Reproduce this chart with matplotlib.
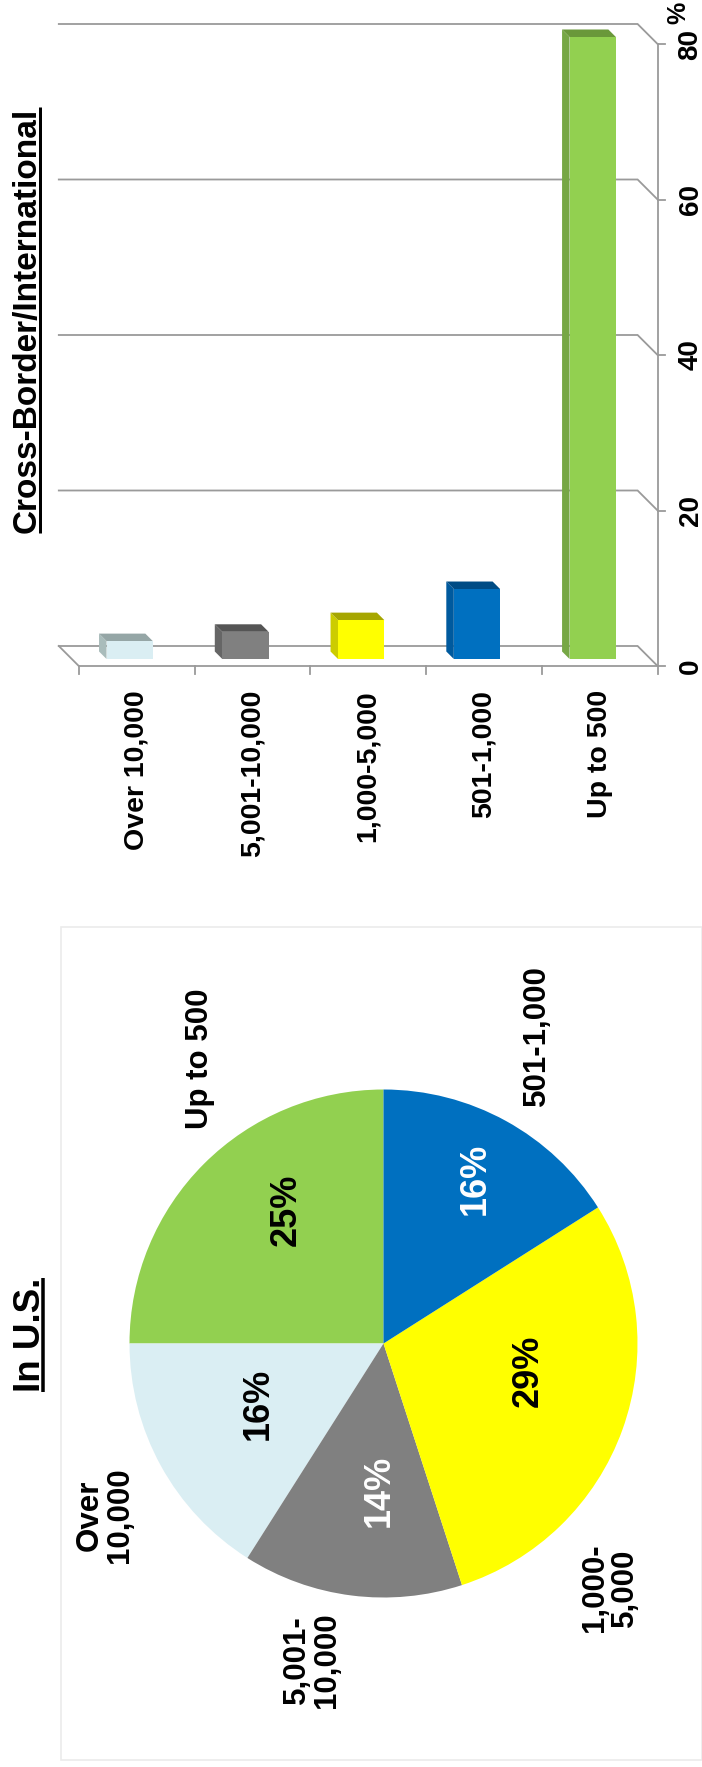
import matplotlib
matplotlib.use("Agg")
import matplotlib.pyplot as plt
from matplotlib.patches import Polygon, Rectangle
from matplotlib.lines import Line2D
from matplotlib.transforms import IdentityTransform

# ---------------- data ----------------
bar_categories = ["Over 10,000", "5,001-10,000", "1,000-5,000", "501-1,000", "Up to 500"]
bar_values = [2.3, 3.5, 5.0, 9.0, 80.0]
value_ticks = [0, 20, 40, 60, 80]

pie_labels = ["Up to 500", "Over\n10,000", "5,001-\n10,000", "1,000-\n5,000", "501-1,000"]
pie_values = [25, 16, 14, 29, 16]

# ---------------- styles ----------------
bar_front = ["#DAEEF3", "#808080", "#FFFF00", "#0070C0", "#92D050"]
bar_top = ["#95A6A6", "#555555", "#A6A600", "#004C85", "#6A983A"]
bar_side = ["#A9BCBB", "#666666", "#CCCC00", "#005A9E", "#76A745"]
pie_colors = ["#92D050", "#DAEEF3", "#808080", "#FFFF00", "#0070C0"]
pct_colors = ["black", "black", "white", "black", "white"]
grid_color = "#9A9A9A"

# label anchor points inside the pie (in radius units)
pct_pos = [(-0.381, 0.526), (-0.494, -0.238), (-0.018, -0.581), (0.569, -0.108), (0.360, 0.648)]
lab_pos = [(-0.722, 1.120), (-1.096, -0.675), (-0.280, -1.246), (0.892, -0.963), (0.603, 1.211)]

W, H = 702, 1767
plt.rcParams["font.family"] = ["Liberation Sans", "DejaVu Sans"]
plt.rcParams["font.weight"] = "bold"

fig = plt.figure(figsize=(W / 100, H / 100), dpi=100)
fig.patch.set_facecolor("white")


def px_axes(x0, y0, x1, y1):
    """Axes from a pixel box measured from the top-left corner."""
    return fig.add_axes([x0 / W, 1 - y1 / H, (x1 - x0) / W, (y1 - y0) / H])


# full-page canvas for titles and the frame
canvas = px_axes(0, 0, W, H)
canvas.set_xlim(0, W)
canvas.set_ylim(H, 0)
canvas.axis("off")

# ---------------- 3-D style column chart ----------------
bx0, by0, bx1, by1 = 71.8, 37, 650.6, 659
ax = px_axes(bx0, by0, bx1, by1)
n = len(bar_categories)
ax.set_xlim(-0.5, n - 0.5)
ax.set_ylim(0, value_ticks[-1])
ax.axis("off")
ux = (bx1 - bx0) / n
uy = (by1 - by0) / value_ticks[-1]


def shift(x, y, d):
    """Move a point d pixels back in depth (negative = toward viewer)."""
    return x - d / ux, y + d / uy


BACK, FRONT, DEPTH = 13, -7, 7.5
lw = 1.3

# back wall gridlines with their diagonal returns to the value axis
for v in value_ticks:
    p0 = shift(-0.5, v, BACK)
    p1 = shift(n - 0.5, v, BACK)
    p2 = shift(n - 0.5, v, FRONT)
    ax.plot([p0[0], p1[0], p2[0]], [p0[1], p1[1], p2[1]], color=grid_color, lw=lw,
            clip_on=False, zorder=1, solid_joinstyle="miter")
    # outward tick on the value axis
    ax.plot([p2[0], p2[0] + 7 / ux], [p2[1], p2[1]], color=grid_color, lw=lw,
            clip_on=False, zorder=1)
    ax.text(p2[0] + 33 / ux, p2[1], f"{v}", rotation=90, ha="center", va="center",
            fontsize=20, fontweight="bold")

# floor: left edge and front edge
fl = shift(-0.5, 0, BACK)
ff = shift(-0.5, 0, FRONT)
fr = shift(n - 0.5, 0, FRONT)
ax.plot([fl[0], ff[0], fr[0]], [fl[1], ff[1], fr[1]], color=grid_color, lw=lw,
        clip_on=False, zorder=1, solid_joinstyle="miter")
# value axis
top = shift(n - 0.5, value_ticks[-1], FRONT)
ax.plot([fr[0], top[0]], [fr[1], top[1]], color=grid_color, lw=lw, clip_on=False, zorder=1)
# category ticks
for k in range(n + 1):
    t = shift(k - 0.5, 0, FRONT)
    ax.plot([t[0], t[0]], [t[1], t[1] - 8 / uy], color=grid_color, lw=lw,
            clip_on=False, zorder=1)

# columns
bw = 0.4
xs = list(range(n))
ax.bar(xs, bar_values, width=bw, color=bar_front, linewidth=0, zorder=4)
for x, v, ct, cs in zip(xs, bar_values, bar_top, bar_side):
    l, r = x - bw / 2, x + bw / 2
    top_face = [(l, v), (r, v), shift(r, v, DEPTH), shift(l, v, DEPTH)]
    side_face = [(l, 0), (l, v), shift(l, v, DEPTH), shift(l, 0, DEPTH)]
    ax.add_patch(Polygon(side_face, closed=True, facecolor=cs, edgecolor="none",
                         zorder=3, clip_on=False))
    ax.add_patch(Polygon(top_face, closed=True, facecolor=ct, edgecolor="none",
                         zorder=3, clip_on=False))

# category labels below the floor
for x, lab in zip(xs, bar_categories):
    p = shift(x, 0, FRONT)
    ax.text(p[0], p[1] - 24 / uy, lab, rotation=90, ha="center", va="top",
            fontsize=20.5, fontweight="bold")

canvas.text(678, 13, "%", rotation=90, ha="center", va="center", fontsize=18,
            fontweight="bold")

# ---------------- pie chart ----------------
canvas.add_patch(Rectangle((61, 926.5), 640.5, 833, fill=False, edgecolor="#EBEBEB",
                           lw=1.2))

cx, cy, R = 383.5, 1343.5, 254
axp = px_axes(cx - R, cy - R, cx + R, cy + R)
wedges, texts, autotexts = axp.pie(
    pie_values, labels=pie_labels, colors=pie_colors, startangle=90, counterclock=True,
    autopct=lambda p: f"{p:.0f}%", wedgeprops=dict(linewidth=0),
)
axp.set_xlim(-1, 1)
axp.set_ylim(-1, 1)
for t, pos, c in zip(autotexts, pct_pos, pct_colors):
    t.set_position(pos)
    t.set_rotation(90)
    t.set_ha("center")
    t.set_va("center")
    t.set_color(c)
    t.set_fontsize(26)
    t.set_fontweight("bold")
for t, pos in zip(texts, lab_pos):
    t.set_position(pos)
    t.set_rotation(90)
    t.set_ha("center")
    t.set_va("center")
    t.set_multialignment("center")
    t.set_linespacing(1.0)
    t.set_fontsize(22.5)
    t.set_fontweight("bold")
    t.set_clip_on(False)

# ---------------- titles with underlines ----------------
renderer = fig.canvas.get_renderer()


def underlined_title(x_base, y_mid, text, size, gap, thick):
    t = canvas.text(x_base, y_mid, text, rotation=90, rotation_mode="anchor",
                    ha="center", va="baseline", fontsize=size, fontweight="bold")
    bb = t.get_window_extent(renderer)
    xd, _ = canvas.transData.transform((x_base + gap, y_mid))
    fig.add_artist(Line2D([xd, xd], [bb.y0, bb.y1], color="black", lw=thick * 0.72,
                          solid_capstyle="butt", transform=IdentityTransform()))


underlined_title(35.5, 320, "Cross-Border/International", 24, 4, 3)
underlined_title(39.5, 1335, "In U.S.", 26.5, 3.5, 3.5)

fig.savefig("out.png", dpi=100, facecolor="white")
